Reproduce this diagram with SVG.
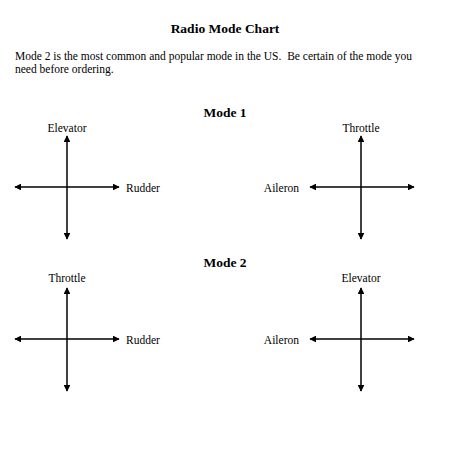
<svg xmlns="http://www.w3.org/2000/svg" width="450" height="450" viewBox="0 0 450 450">
<style>
text{font-family:"Liberation Serif","Times New Roman",serif;fill:#000}
.h{font-weight:bold;font-size:13.5px;text-anchor:middle}
.p{font-size:11.5px}
.l{font-size:11.5px}
.ax{stroke:#000;stroke-width:1.5;fill:none;marker-start:url(#ah);marker-end:url(#ah)}
</style>
<defs>
<marker id="ah" viewBox="0 0 10 10" refX="9" refY="5" markerWidth="4.5" markerHeight="4.5" orient="auto-start-reverse" markerUnits="strokeWidth">
<path d="M0,0 L10,5 L0,10 z" fill="#000"/>
</marker>
</defs>
<rect width="450" height="450" fill="#fff"/>
<text class="h" x="225" y="33">Radio Mode Chart</text>
<text class="p" x="15" y="60" xml:space="preserve">Mode 2 is the most common and popular mode in the US.  Be certain of the mode you</text>
<text class="p" x="15" y="73">need before ordering.</text>
<text class="h" x="225" y="117">Mode 1</text>
<text class="h" x="225" y="267">Mode 2</text>
<g id="connectors">
<line class="ax" x1="67" y1="136" x2="67" y2="239"/>
<line class="ax" x1="15" y1="187" x2="119" y2="187"/>
<line class="ax" x1="361" y1="136" x2="361" y2="239"/>
<line class="ax" x1="310" y1="187" x2="414" y2="187"/>
<line class="ax" x1="67" y1="288" x2="67" y2="391"/>
<line class="ax" x1="15" y1="339" x2="119" y2="339"/>
<line class="ax" x1="361" y1="288" x2="361" y2="391"/>
<line class="ax" x1="310" y1="339" x2="414" y2="339"/>
</g>
<g id="m1-elevator"><text class="l" x="67" y="132" text-anchor="middle">Elevator</text></g>
<g id="m1-rudder"><text class="l" x="126" y="192">Rudder</text></g>
<g id="m1-throttle"><text class="l" x="361" y="132" text-anchor="middle">Throttle</text></g>
<g id="m1-aileron"><text class="l" x="299" y="192" text-anchor="end">Aileron</text></g>
<g id="m2-throttle"><text class="l" x="67" y="282" text-anchor="middle">Throttle</text></g>
<g id="m2-rudder"><text class="l" x="126" y="344">Rudder</text></g>
<g id="m2-elevator"><text class="l" x="361" y="282" text-anchor="middle">Elevator</text></g>
<g id="m2-aileron"><text class="l" x="299" y="344" text-anchor="end">Aileron</text></g>
</svg>
